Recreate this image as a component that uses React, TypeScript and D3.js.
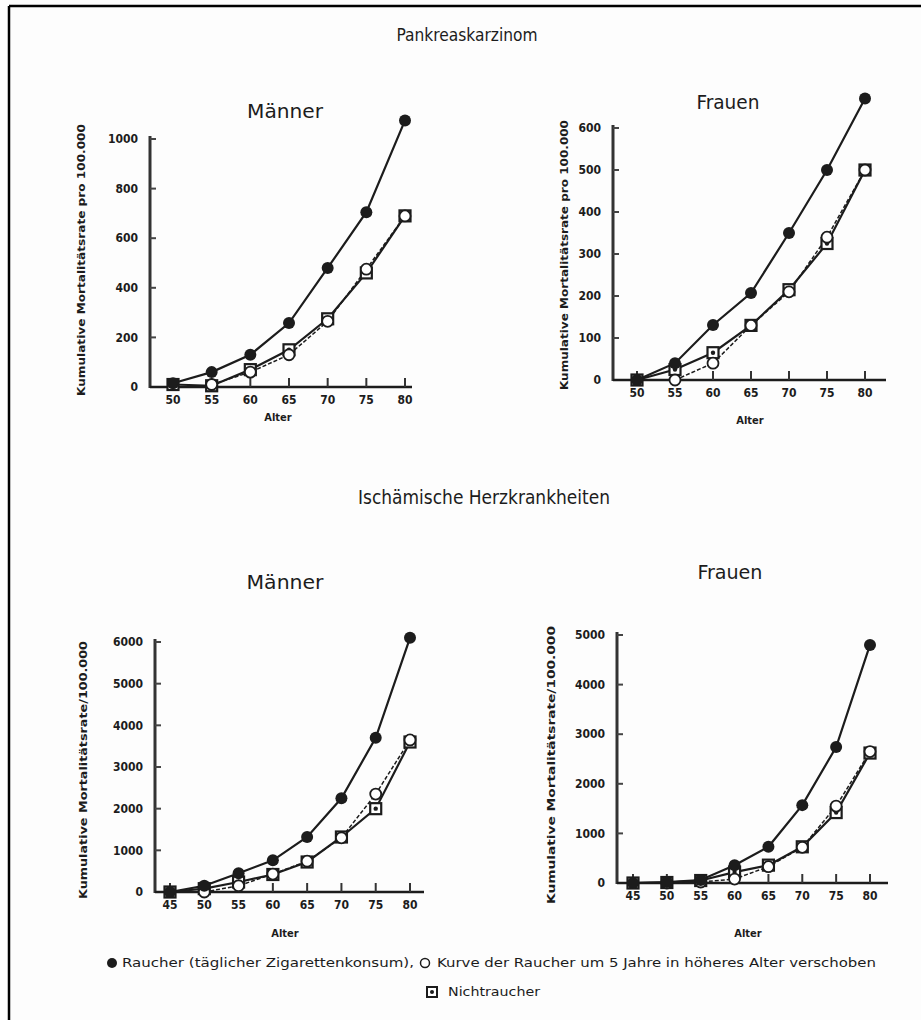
import React from 'react';
import * as d3 from 'd3';

// Alter (x-Achse)
const agesPank = [50, 55, 60, 65, 70, 75, 80];
const agesPankShift = [55, 60, 65, 70, 75, 80];
const agesHerz = [45, 50, 55, 60, 65, 70, 75, 80];
const agesHerzShift = [50, 55, 60, 65, 70, 75, 80];

// Pankreaskarzinom, Männer
const pankMenSmoker = [15, 60, 130, 258, 480, 705, 1075];
const pankMenShift = [10, 60, 130, 265, 475, 690];
const pankMenNon = [10, 5, 70, 150, 275, 460, 690];
const pankMenTicks = [0, 200, 400, 600, 800, 1000];

// Pankreaskarzinom, Frauen
const pankWomenSmoker = [0, 40, 131, 207, 350, 500, 670];
const pankWomenShift = [0, 40, 130, 210, 340, 500];
const pankWomenNon = [0, 25, 65, 130, 215, 325, 500];
const pankWomenTicks = [0, 100, 200, 300, 400, 500, 600];

// Ischämische Herzkrankheiten, Männer
const herzMenSmoker = [0, 150, 450, 760, 1320, 2250, 3700, 6100];
const herzMenShift = [0, 150, 430, 740, 1300, 2350, 3650];
const herzMenNon = [0, 80, 240, 420, 720, 1320, 2000, 3600];
const herzMenTicks = [0, 1000, 2000, 3000, 4000, 5000, 6000];

// Ischämische Herzkrankheiten, Frauen
const herzWomenSmoker = [0, 20, 60, 360, 730, 1570, 2740, 4800];
const herzWomenShift = [0, 20, 80, 330, 720, 1550, 2650];
const herzWomenNon = [0, 10, 50, 220, 360, 730, 1420, 2620];
const herzWomenTicks = [0, 1000, 2000, 3000, 4000, 5000];

const FONT = "'Liberation Sans Narrow', 'DejaVu Sans Condensed', 'Liberation Sans', sans-serif";
const INK = '#1c1c1c';

interface PanelProps {
  ages: number[];
  shiftAges: number[];
  smoker: number[];
  shifted: number[];
  non: number[];
  yTicks: number[];
  xDomain: [number, number];
  xRange: [number, number];
  yRange: [number, number];
  originX: number;
  axisEndX: number;
  yTitle: string;
  yTitleX: number;
  yTitleY: number;
  yTitleLen: number;
  xTitleX: number;
  xTitleY: number;
}

const Panel: React.FC<PanelProps> = (p) => {
  const x = d3.scaleLinear().domain(p.xDomain).range(p.xRange);
  const yMax = p.yTicks[p.yTicks.length - 1];
  const y = d3.scaleLinear().domain([0, yMax]).range(p.yRange);
  const line = d3.line<[number, number]>().x(d => x(d[0])).y(d => y(d[1]));
  const sm = p.ages.map((a, i) => [a, p.smoker[i]] as [number, number]);
  const nr = p.ages.map((a, i) => [a, p.non[i]] as [number, number]);
  const sh = p.shiftAges.map((a, i) => [a, p.shifted[i]] as [number, number]);
  const y0 = y(0);
  const yTop = y(yMax) - 3;

  return (
    <g fontFamily={FONT} fill={INK}>
      {/* Achsen */}
      <line x1={p.originX} x2={p.originX} y1={y0 + 1} y2={yTop} stroke="#333" strokeWidth={3} />
      <line x1={p.originX} x2={p.axisEndX} y1={y0} y2={y0} stroke={INK} strokeWidth={2.5} />
      {p.yTicks.map(t => (
        <g key={'y' + t}>
          {t > 0 && <line x1={p.originX} x2={p.originX + 6} y1={y(t)} y2={y(t)} stroke="#444" strokeWidth={2} />}
          <text x={p.originX - 12} y={y(t)} dy="0.35em" textAnchor="end" fontSize={12} fontWeight="bold">{t}</text>
        </g>
      ))}
      {p.ages.map(a => (
        <g key={'x' + a}>
          <line x1={x(a)} x2={x(a)} y1={y0} y2={y0 - 9} stroke="#333" strokeWidth={2} />
          <text x={x(a)} y={y0 + 17} textAnchor="middle" fontSize={12} fontWeight="bold">{a}</text>
        </g>
      ))}
      <text transform={`translate(${p.yTitleX},${p.yTitleY}) rotate(-90)`} textAnchor="middle" dy="0.35em"
        fontSize={11} fontWeight="bold" textLength={p.yTitleLen} lengthAdjust="spacingAndGlyphs">{p.yTitle}</text>
      <text x={p.xTitleX} y={p.xTitleY} textAnchor="middle" fontSize={11} fontWeight="bold">Alter</text>

      {/* Kurven */}
      <path d={line(nr) || ''} fill="none" stroke={INK} strokeWidth={2.2} />
      <path d={line(sh) || ''} fill="none" stroke={INK} strokeWidth={1.5} strokeDasharray="4,2" />
      <path d={line(sm) || ''} fill="none" stroke={INK} strokeWidth={2.2} />

      {nr.map((d, i) => (
        <g key={'n' + i}>
          <rect x={x(d[0]) - 5.5} y={y(d[1]) - 5.5} width={11} height={11} fill="#fff" stroke={INK} strokeWidth={2.2} />
          <circle cx={x(d[0])} cy={y(d[1])} r={2.2} fill={INK} />
        </g>
      ))}
      {sh.map((d, i) => (
        <circle key={'s' + i} cx={x(d[0])} cy={y(d[1])} r={5.5} fill="#fff" stroke={INK} strokeWidth={1.8} />
      ))}
      {sm.map((d, i) => (
        <circle key={'r' + i} cx={x(d[0])} cy={y(d[1])} r={6} fill={INK} />
      ))}
    </g>
  );
};

const App: React.FC = () => {
  return (
    <svg width={921} height={1020} style={{ position: 'absolute', left: 0, top: 0, background: '#fff' }}>
      <rect x={0} y={0} width={921} height={1020} fill="#fdfdfd" />
      <line x1={9} x2={9} y1={6} y2={1020} stroke="#000" strokeWidth={2.5} />
      <line x1={9} x2={921} y1={6} y2={6} stroke="#000" strokeWidth={2.5} />

      <g fontFamily={FONT} fill={INK} textAnchor="middle">
        <text x={467} y={41} fontSize={18} textLength={141} lengthAdjust="spacingAndGlyphs">Pankreaskarzinom</text>
        <text x={285} y={118} fontSize={19} textLength={76} lengthAdjust="spacingAndGlyphs">Männer</text>
        <text x={728} y={109} fontSize={19} textLength={63} lengthAdjust="spacingAndGlyphs">Frauen</text>
        <text x={484} y={504} fontSize={19} textLength={252} lengthAdjust="spacingAndGlyphs">Ischämische Herzkrankheiten</text>
        <text x={285} y={589} fontSize={19} textLength={77} lengthAdjust="spacingAndGlyphs">Männer</text>
        <text x={730} y={579} fontSize={19} textLength={65} lengthAdjust="spacingAndGlyphs">Frauen</text>
      </g>

      <Panel ages={agesPank} shiftAges={agesPankShift} smoker={pankMenSmoker} shifted={pankMenShift} non={pankMenNon}
        yTicks={pankMenTicks} xDomain={[50, 80]} xRange={[173, 405]} yRange={[387, 139]} originX={150} axisEndX={412}
        yTitle="Kumulative Mortalitätsrate pro 100.000" yTitleX={81} yTitleY={260} yTitleLen={272}
        xTitleX={278} xTitleY={421} />
      <Panel ages={agesPank} shiftAges={agesPankShift} smoker={pankWomenSmoker} shifted={pankWomenShift} non={pankWomenNon}
        yTicks={pankWomenTicks} xDomain={[50, 80]} xRange={[637, 865]} yRange={[380, 128]} originX={613} axisEndX={886}
        yTitle="Kumulative Mortalitätsrate pro 100.000" yTitleX={564} yTitleY={255} yTitleLen={270}
        xTitleX={750} xTitleY={424} />
      <Panel ages={agesHerz} shiftAges={agesHerzShift} smoker={herzMenSmoker} shifted={herzMenShift} non={herzMenNon}
        yTicks={herzMenTicks} xDomain={[45, 80]} xRange={[170, 410]} yRange={[892, 642]} originX={155} axisEndX={424}
        yTitle="Kumulative Mortalitätsrate/100.000" yTitleX={83} yTitleY={770} yTitleLen={258}
        xTitleX={285} xTitleY={937} />
      <Panel ages={agesHerz} shiftAges={agesHerzShift} smoker={herzWomenSmoker} shifted={herzWomenShift} non={herzWomenNon}
        yTicks={herzWomenTicks} xDomain={[45, 80]} xRange={[633, 870]} yRange={[883, 635]} originX={617} axisEndX={888}
        yTitle="Kumulative Mortalitätsrate/100.000" yTitleX={551} yTitleY={765} yTitleLen={278}
        xTitleX={748} xTitleY={937} />

      {/* Legende */}
      <g fontFamily={FONT} fill={INK} fontSize={12}>
        <circle cx={112} cy={963} r={5} fill={INK} />
        <text x={122} y={967} textLength={292} lengthAdjust="spacingAndGlyphs">Raucher (täglicher Zigarettenkonsum),</text>
        <circle cx={425} cy={963} r={4.5} fill="#fff" stroke={INK} strokeWidth={1.5} />
        <text x={437} y={967} textLength={439} lengthAdjust="spacingAndGlyphs">Kurve der Raucher um 5 Jahre in höheres Alter verschoben</text>
        <rect x={427} y={987} width={10} height={10} fill="#fff" stroke={INK} strokeWidth={2} />
        <circle cx={432} cy={992} r={2} fill={INK} />
        <text x={448} y={996} textLength={92} lengthAdjust="spacingAndGlyphs">Nichtraucher</text>
      </g>
    </svg>
  );
};

export default App;
